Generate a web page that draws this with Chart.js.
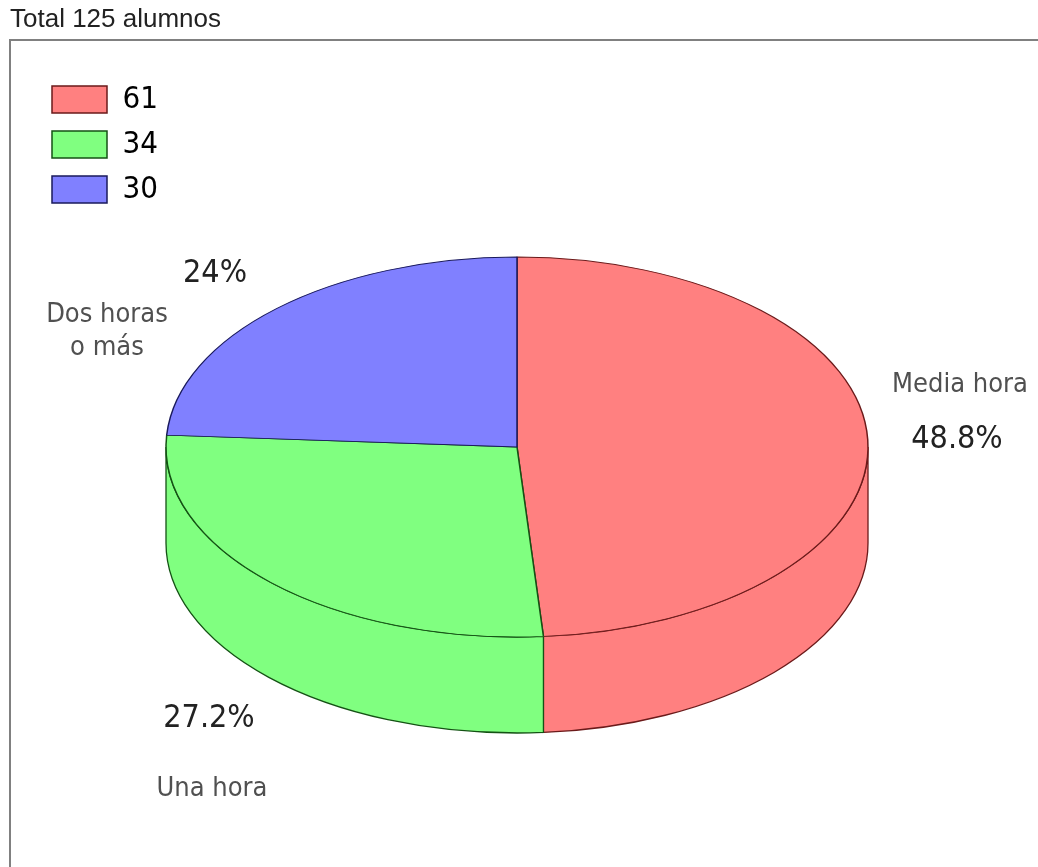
<!DOCTYPE html>
<html>
<head>
<meta charset="utf-8">
<script src="https://cdn.jsdelivr.net/npm/chart.js@4.4.0/dist/chart.umd.min.js"></script>
<style>
  html, body { margin: 0; padding: 0; background: #fff; }
  #chart { display: block; }
</style>
</head>
<body>
<canvas id="chart" width="1038" height="867"></canvas>
<script>
const labels = ["Media hora", "Una hora", ["Dos horas", "o más"]]
const alumnos = [61, 34, 30]
const fillColors = ["#ff8080", "#80ff80", "#8080ff"]
const edgeColors = ["#6b1a1a", "#145214", "#1a1a5c"]

// 3d look: squash the pie and give it a wall
const tilt = 190 / 351
const depth = 96

const textFont = "'DejaVu Sans Condensed', 'DejaVu Sans'"

// where the slice texts go, relative to the pie centre
const textSpots = [
    {name: [443, -55], pct: [440, 1]},
    {name: [-305, 349], pct: [-308, 280]},
    {name: [-410, -125], pct: [-302, -165]}
]

const total = alumnos.reduce((a, b) => a + b, 0)

const pie3d = {
    id: "pie3d",
    beforeDraw(chart) {
        const ctx = chart.ctx
        const area = chart.chartArea
        ctx.save()
        ctx.fillStyle = "#fff"
        ctx.fillRect(0, 0, chart.width, chart.height)
        ctx.strokeStyle = "#808080"
        ctx.lineWidth = 2
        ctx.strokeRect(area.left, area.top, 2000, 2000)
        ctx.restore()
    },
    afterLayout(chart) {
        // legend sits inside the frame, top left
        const lg = chart.legend
        lg.left = 38
        lg.top = 70
        lg.right = chart.chartArea.right
        lg.bottom = chart.chartArea.bottom
    },
    beforeDatasetsDraw(chart) {
        const ctx = chart.ctx
        const arcs = chart.getDatasetMeta(0).data
        const cx = arcs[0].x, cy = arcs[0].y, r = arcs[0].outerRadius
        const ry = r * tilt
        // only the front half of the wall can be seen
        arcs.forEach((arc, i) => {
            const lo = Math.max(arc.startAngle, 0)
            const hi = Math.min(arc.endAngle, Math.PI)
            if (hi <= lo) return
            ctx.beginPath()
            ctx.ellipse(cx, cy, r, ry, 0, lo, hi, false)
            ctx.ellipse(cx, cy + depth, r, ry, 0, hi, lo, true)
            ctx.closePath()
            ctx.fillStyle = fillColors[i]
            ctx.fill()
            ctx.strokeStyle = edgeColors[i]
            ctx.lineWidth = 1.3
            ctx.stroke()
        })
        ctx.save()
        ctx.translate(0, cy)
        ctx.scale(1, tilt)
        ctx.translate(0, -cy)
    },
    afterDatasetsDraw(chart) {
        chart.ctx.restore()
    },
    afterDraw(chart) {
        const ctx = chart.ctx
        const arc = chart.getDatasetMeta(0).data[0]
        const cx = arc.x, cy = arc.y
        ctx.save()
        ctx.textAlign = "center"
        ctx.textBaseline = "alphabetic"
        labels.forEach((lab, i) => {
            const spot = textSpots[i]
            const lines = Array.isArray(lab) ? lab : [lab]
            ctx.font = "27px " + textFont
            ctx.fillStyle = "#505050"
            lines.forEach((line, j) => {
                ctx.fillText(line, cx + spot.name[0], cy + spot.name[1] + j * 33)
            })
            const p = Math.round(alumnos[i] / total * 1000) / 10
            ctx.font = "32px " + textFont
            ctx.fillStyle = "#222"
            ctx.fillText(p + "%", cx + spot.pct[0], cy + spot.pct[1])
        })
        ctx.restore()
    }
}

new Chart("chart", {
    type: "pie",
    data: {
        labels: labels,
        datasets: [{
            data: alumnos,
            backgroundColor: fillColors,
            borderColor: edgeColors,
            borderWidth: 1.5,
            hoverOffset: 0
        }]
    },
    options: {
        responsive: false,
        animation: false,
        events: [],
        radius: 351,
        rotation: 0,
        layout: {padding: {left: 10, right: 14, top: 0, bottom: 13}},
        plugins: {
            title: {
                display: true,
                text: "Total 125 alumnos",
                align: "start",
                color: "#222",
                font: {family: "Liberation Sans", size: 26, weight: "normal", lineHeight: 1},
                padding: {top: 7, bottom: 7}
            },
            legend: {
                position: "chartArea",
                align: "start",
                labels: {
                    boxWidth: 55,
                    boxHeight: 27,
                    padding: 14,
                    color: "#1a1a1a",
                    font: {family: textFont, size: 31},
                    generateLabels: () => alumnos.map((v, i) => ({
                        text: String(v),
                        fillStyle: fillColors[i],
                        strokeStyle: edgeColors[i],
                        lineWidth: 1.5,
                        hidden: false,
                        index: i
                    }))
                }
            },
            tooltip: {enabled: false}
        }
    },
    plugins: [pie3d]
})
</script>
</body>
</html>
